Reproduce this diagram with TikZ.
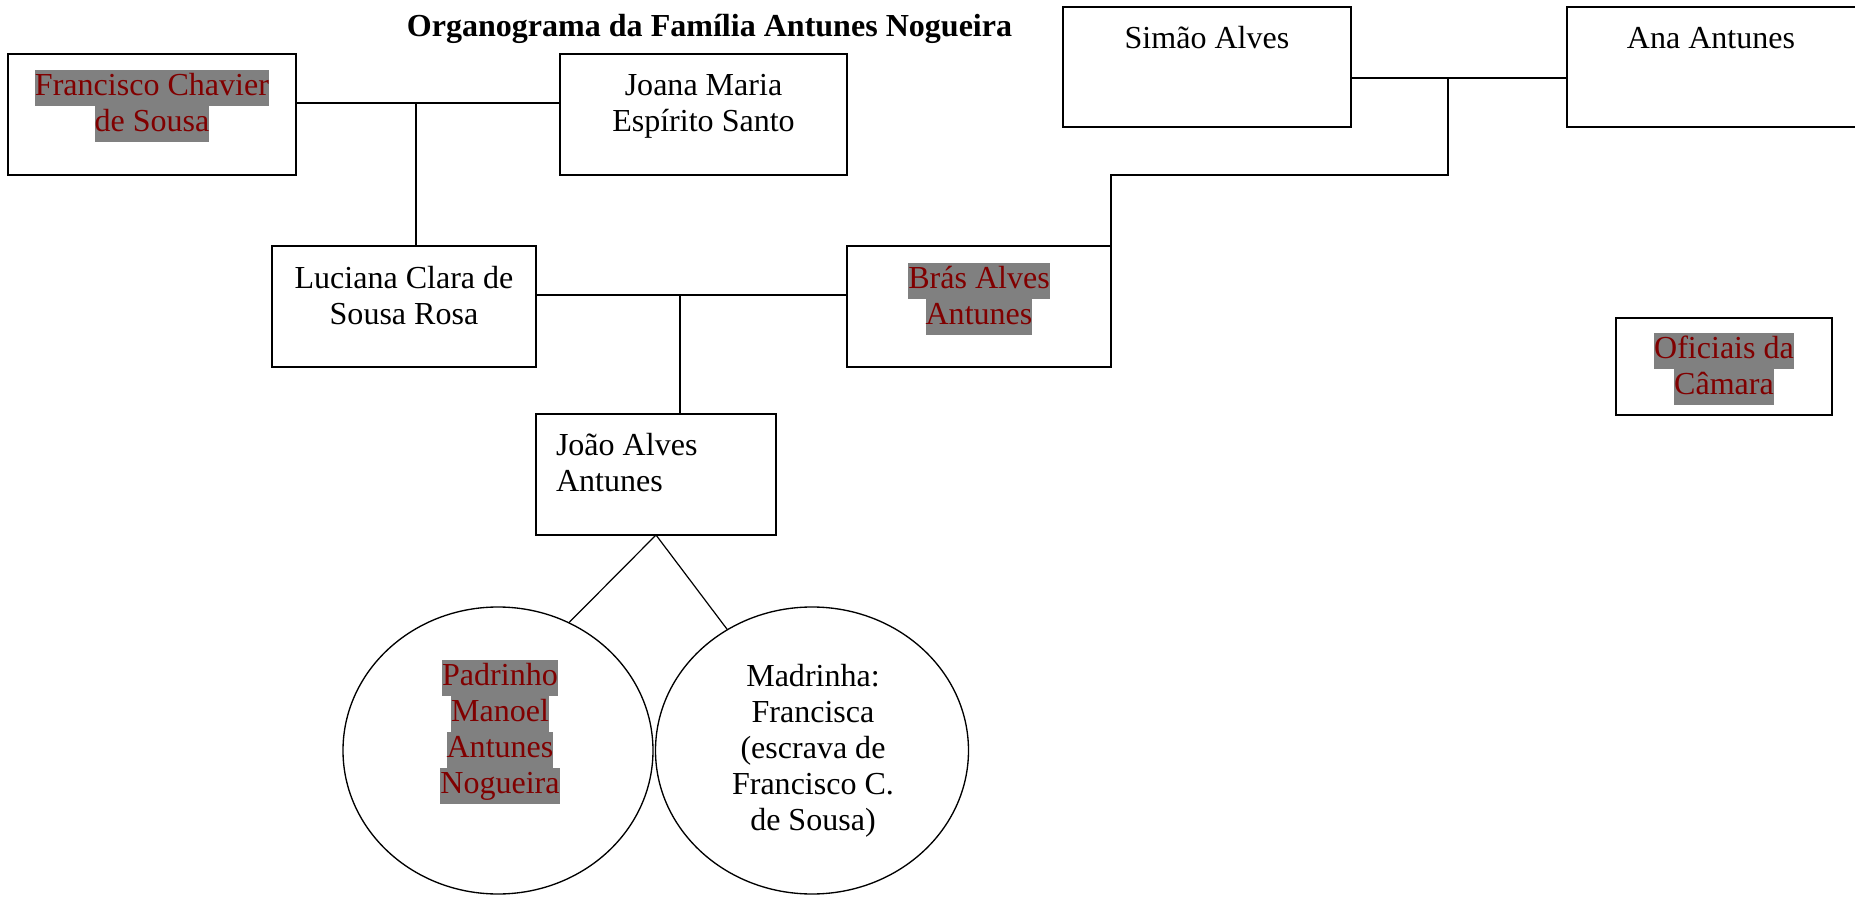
\documentclass[tikz,border=0pt]{standalone}
\usepackage{fontspec}
\setmainfont{Liberation Serif}
\usetikzlibrary{shapes.geometric}
\definecolor{hlred}{RGB}{128,0,0}
\definecolor{hlgray}{RGB}{128,128,128}
\newcommand\upx{*0.3745pt}
\newcommand\fsz{\fontsize{12}{13.5}\selectfont}
\newcommand\hlt[1]{{\setlength\fboxsep{0pt}\colorbox{hlgray}{\strut\textcolor{hlred}{#1}}}}
\newcommand\pln[1]{\strut#1}
\tikzset{
  box/.style={draw, line width=0.55pt, inner sep=0pt, outer sep=0pt, rectangle},
  ell/.style={draw, line width=0.5pt, inner sep=0pt, outer sep=0pt, ellipse},
  txt/.style={inner sep=0pt, outer sep=0pt, align=center, font=\fsz, anchor=north},
  conn/.style={line width=0.45pt},
}
\begin{document}
\begin{tikzpicture}[x=0.3745pt,y=-0.3745pt]
\fill[white] (0,0) rectangle (1855,898);
\useasboundingbox (0,0) rectangle (1855,898);

% title
\node[inner sep=0pt, anchor=base, font=\fsz\bfseries] (title) at (709.5,37) {Organograma da Família Antunes Nogueira};

% boxes
\node[box, minimum width=288\upx, minimum height=121\upx] (fran) at (152,114.5) {};
\node[box, minimum width=287\upx, minimum height=121\upx] (joana) at (703.5,114.5) {};
\node[box, minimum width=288\upx, minimum height=120\upx] (simao) at (1207,67) {};
\begin{scope}
\clip (0,0) rectangle (1855,898);
\node[box, minimum width=340\upx, minimum height=120\upx] (ana) at (1737,67) {};
\end{scope}
\node[box, minimum width=264\upx, minimum height=121\upx] (luc) at (404,306.5) {};
\node[box, minimum width=264\upx, minimum height=121\upx] (bras) at (979,306.5) {};
\node[box, minimum width=240\upx, minimum height=121\upx] (joao) at (656,474.5) {};
\node[box, minimum width=216\upx, minimum height=97\upx] (ofic) at (1724,366.5) {};
\node[ell, minimum width=310\upx, minimum height=287\upx] (padr) at (498,750.5) {};
\node[ell, minimum width=313\upx, minimum height=287\upx] (madr) at (812,750.5) {};

% texts
\node[txt] (tfran) at (152,70) {\hlt{Francisco Chavier}\\\hlt{de Sousa}};
\node[txt] (tjoana) at (703.5,70) {\pln{Joana Maria}\\\pln{Espírito Santo}};
\node[txt] (tsimao) at (1207,23) {\pln{Simão Alves}};
\node[txt] (tana) at (1711,23) {\pln{Ana Antunes}};
\node[txt] (tluc) at (404,263) {\pln{Luciana Clara de}\\\pln{Sousa Rosa}};
\node[txt] (tbras) at (979,263) {\hlt{Brás Alves}\\\hlt{Antunes}};
\node[txt, align=left, anchor=north west] (tjoao) at (556,430) {\pln{João Alves}\\\pln{Antunes}};
\node[txt] (tofic) at (1724,333) {\hlt{Oficiais da}\\\hlt{Câmara}};
\node[txt] (tpadr) at (500,660) {\hlt{Padrinho}\\\hlt{Manoel}\\\hlt{Antunes}\\\hlt{Nogueira}};
\node[txt] (tmadr) at (813,661) {\pln{Madrinha:}\\\pln{Francisca}\\\pln{(escrava de}\\\pln{Francisco C.}\\\pln{de Sousa)}};

% connectors
\coordinate (m1) at (416,103);
\draw[conn] (fran.east |- m1) -- (joana.west |- m1);
\draw[conn] (m1) -- (m1 |- luc.north);
\coordinate (m2) at (680,295);
\draw[conn] (luc.east |- m2) -- (bras.west |- m2);
\draw[conn] (m2) -- (m2 |- joao.north);
\coordinate (m3) at (1448,78);
\coordinate (m4) at (1448,175);
\draw[conn] (simao.east |- m3) -- (ana.west |- m3);
\draw[conn] (m3) -- (m4) -| (bras.north east);
\draw[conn] (joao.south) -- (padr.61);
\draw[conn] (joao.south) -- (madr.125);
\end{tikzpicture}
\end{document}
